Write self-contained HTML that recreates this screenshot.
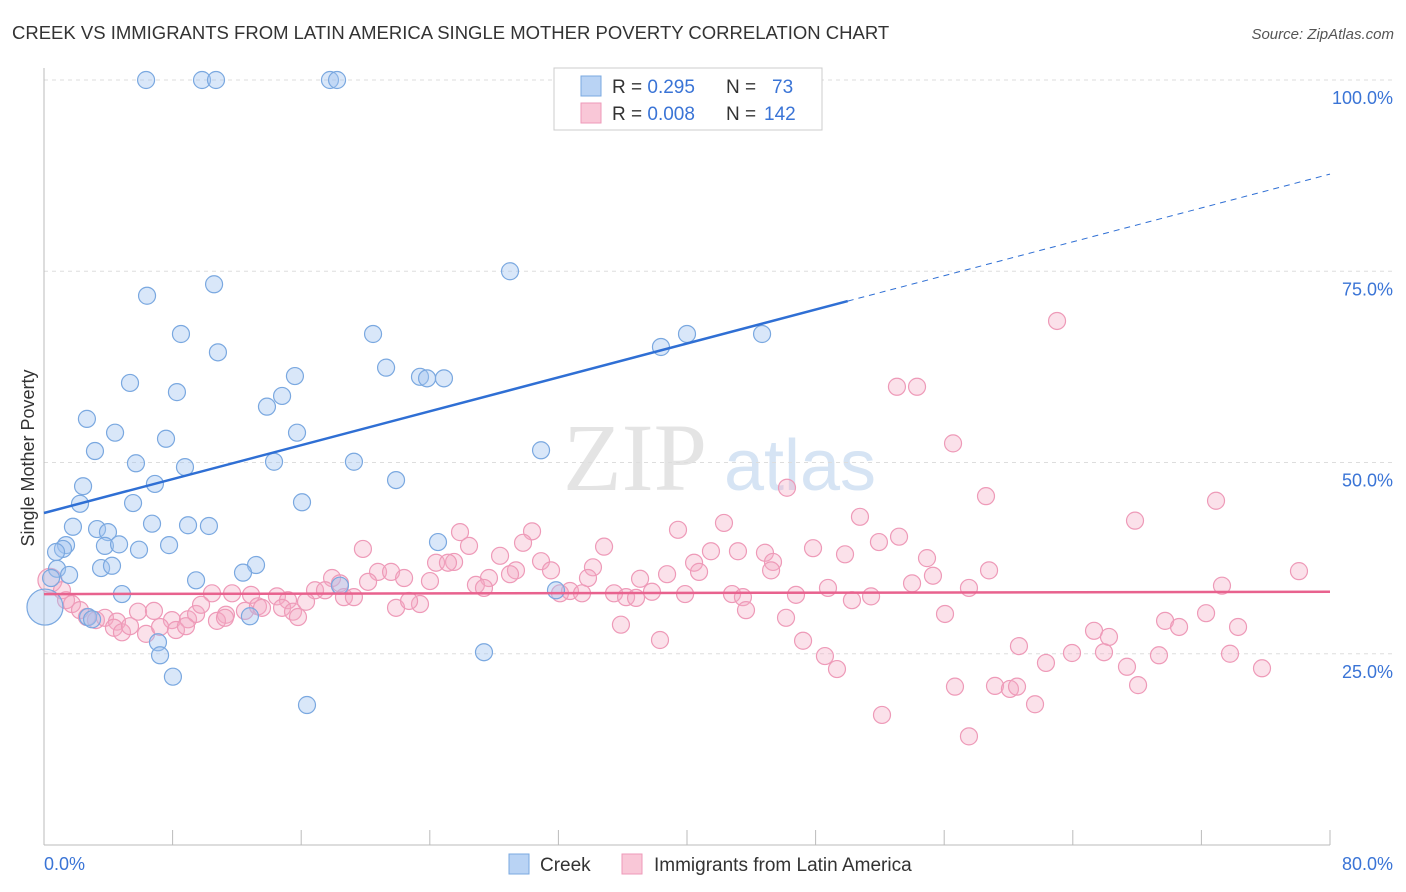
<!DOCTYPE html>
<html><head><meta charset="utf-8"><style>
body{margin:0;background:#fff;font-family:"Liberation Sans",sans-serif;}
svg{display:block}
</style></head><body>
<svg id="c" width="1406" height="892">
<text x="12" y="39" font-size="18.5" fill="#333">CREEK VS IMMIGRANTS FROM LATIN AMERICA SINGLE MOTHER POVERTY CORRELATION CHART</text>
<text x="1394" y="39" font-size="15" fill="#555" font-style="italic" text-anchor="end">Source: ZipAtlas.com</text>
<text x="34" y="458" font-size="18" fill="#333" text-anchor="middle" transform="rotate(-90 34 458)">Single Mother Poverty</text>
<g><text x="635" y="490" font-size="96" fill="#e4e4e4" font-family="Liberation Serif,serif" text-anchor="middle">ZIP</text><text x="800" y="490" font-size="72" fill="#d6e4f4" text-anchor="middle">atlas</text></g>
<g id="grid"></g><g id="axes"></g><g id="pink"></g><g id="blue"></g><g id="lines"></g>
<g>
<rect x="554" y="68" width="268" height="62" fill="#fff" stroke="#ccc"/>
<rect x="581" y="76" width="20" height="20" fill="#b9d3f4" stroke="#7aa8e0"/>
<rect x="581" y="103" width="20" height="20" fill="#f9c7d7" stroke="#ee9ab8"/>
<text x="612" y="93" font-size="19" fill="#333">R = <tspan fill="#3a74d6">0.295</tspan><tspan x="726">N = </tspan><tspan fill="#3a74d6" x="772">73</tspan></text>
<text x="612" y="120" font-size="19" fill="#333">R = <tspan fill="#3a74d6">0.008</tspan><tspan x="726">N = </tspan><tspan fill="#3a74d6" x="764">142</tspan></text>
</g>
<g>
<rect x="509" y="854" width="20" height="20" fill="#b9d3f4" stroke="#7aa8e0"/>
<text x="540" y="871" font-size="19" fill="#333">Creek</text>
<rect x="622" y="854" width="20" height="20" fill="#f9c7d7" stroke="#ee9ab8"/>
<text x="654" y="871" font-size="19" fill="#333">Immigrants from Latin America</text>
</g>
</svg>
<script>
const yTicks=[25,50,75,100];
const yTickLabels=["25.0%","50.0%","75.0%","100.0%"];
const xEnds=["0.0%","80.0%"];
const blueX=[6.35,9.83,10.70,17.79,18.23,28.99,10.58,6.41,8.52,20.47,10.82,38.38,40.0,44.67,21.28,15.61,23.39,23.83,24.88,5.35,8.27,14.81,13.87,2.67,4.42,15.74,7.59,3.17,30.92,5.72,8.77,14.31,19.28,21.9,2.43,6.9,2.24,5.54,16.05,1.8,3.3,6.72,8.96,10.26,3.98,1.37,1.18,0.75,3.79,4.67,5.91,7.78,24.51,0.81,3.55,4.23,1.56,13.19,12.38,9.46,18.41,31.85,4.85,2.74,2.99,12.81,7.09,7.22,27.37,8.02,16.36,0.44,0.06];
const blueY=[100,100,100,100,100,75.0,73.3,71.8,66.8,66.8,64.4,65.1,66.8,66.8,62.4,61.3,61.2,61.0,61.0,60.4,59.2,58.7,57.3,55.7,53.9,53.9,53.1,51.5,51.6,49.9,49.4,50.1,50.1,47.7,46.9,47.2,44.6,44.7,44.8,41.6,41.3,42.0,41.8,41.7,40.9,39.2,38.7,38.3,39.1,39.3,38.6,39.2,39.6,36.1,36.2,36.5,35.3,36.6,35.6,34.6,33.9,33.3,32.8,29.8,29.5,29.9,26.5,24.8,25.2,22.0,18.3,34.9,31.1];
const pinkX=[63.02,53.06,54.31,56.55,46.22,58.6,72.91,67.87,42.3,50.76,39.44,25.88,30.36,53.19,51.94,19.84,26.44,29.8,34.84,41.49,43.17,44.85,47.84,49.83,28.37,30.92,54.93,24.39,25.51,25.13,34.15,40.44,45.35,58.79,78.07,20.78,21.59,29.36,31.54,40.75,17.92,22.4,27.68,28.99,37.08,38.76,45.23,55.3,18.41,26.87,27.37,33.84,24.01,20.16,54.0,73.28,57.54,48.77,10.45,11.7,12.88,14.49,15.18,16.86,17.48,18.66,19.28,32.1,32.72,33.47,35.46,36.21,36.83,37.82,39.88,42.8,43.48,46.78,50.26,51.45,0.37,1.12,1.37,1.74,2.24,2.67,3.23,3.79,4.54,5.85,6.84,7.96,8.96,9.46,9.77,11.32,12.5,13.31,13.56,14.81,15.49,15.8,16.3,23.39,21.9,22.71,43.67,56.05,72.29,69.74,70.61,74.28,46.16,35.89,10.76,11.26,4.35,4.85,5.35,6.35,7.22,8.21,8.83,38.32,47.22,65.32,66.25,60.65,63.95,65.94,69.36,73.78,62.33,67.37,75.77,48.58,49.33,56.67,59.16,60.09,60.53,68.06,61.65,52.13,57.54];
const pinkY=[68.5,59.9,59.9,52.5,46.7,45.6,45.0,42.4,42.1,42.9,41.2,40.9,41.0,40.3,39.6,38.7,39.1,39.5,39.0,38.4,38.4,38.2,38.8,38.0,37.8,37.1,37.5,36.9,37.0,36.9,36.3,36.9,37.0,35.9,35.8,35.7,35.7,35.9,35.9,35.7,34.9,34.9,34.9,35.4,34.8,35.4,35.9,35.2,34.2,34.0,33.6,34.9,34.5,34.4,34.2,33.9,33.6,33.6,32.9,32.9,32.7,32.5,32.0,33.3,33.3,32.4,32.4,32.9,33.2,32.9,32.9,32.4,32.3,33.1,32.8,32.8,32.4,32.7,32.0,32.5,34.6,33.3,32.0,31.5,30.7,29.8,29.4,29.7,29.2,30.5,30.6,29.4,29.5,30.2,31.4,30.1,30.6,31.2,31.0,31.0,30.5,29.8,31.8,31.5,31.0,31.9,30.7,30.2,30.3,29.3,28.5,28.5,29.7,28.8,29.3,29.7,28.4,27.8,28.6,27.6,28.5,28.1,28.6,26.8,26.7,28.0,27.2,26.0,25.1,25.2,24.8,25.0,23.8,23.3,23.1,24.7,23.0,20.7,20.8,20.4,20.7,20.9,18.4,17.0,14.2];
const blueTrend=[[0,43.4],[50,71.1],[80,87.7]];
const pinkTrend=[[0,32.8],[80,33.1]];
const NS="http://www.w3.org/2000/svg";
const X=v=>44+v/80*1286, Y=v=>845-v/100*765;
function mk(p,t,a){const e=document.createElementNS(NS,t);for(const k in a)e.setAttribute(k,a[k]);document.getElementById(p).appendChild(e);return e;}
yTicks.forEach((t,i)=>{
 const g=mk('grid','line',{x1:44,x2:1394,y1:Y(t),y2:Y(t),stroke:'#ddd','stroke-dasharray':'4 4'});
 
 
 const l=mk('grid','text',{x:1393,y:Y(t)+24,'font-size':18,fill:'#3a74d6','text-anchor':'end'});l.textContent=yTickLabels[i];
 
 
});
const ya=mk('axes','line',{x1:44,x2:44,y1:68,y2:845,stroke:'#bbb'});


const xa=mk('axes','line',{x1:44,x2:1330,y1:845,y2:845,stroke:'#bbb'});


for(let i=1;i<=10;i++){const t=mk('axes','line',{x1:X(i*8),x2:X(i*8),y1:830,y2:845,stroke:'#bbb'});
 
 }
const x0=mk('axes','text',{x:44,y:870,'font-size':18,fill:'#3a74d6'});x0.textContent=xEnds[0];


const x1=mk('axes','text',{x:1393,y:870,'font-size':18,fill:'#3a74d6','text-anchor':'end'});x1.textContent=xEnds[1];


pinkX.forEach((v,i)=>{const c=mk('pink','circle',{cx:X(v),cy:Y(pinkY[i]),r:i==80?12:8.5,fill:'rgba(244,170,195,0.35)',stroke:'#ee9ab8','stroke-width':1.2});
 
 });
blueX.forEach((v,i)=>{const c=mk('blue','circle',{cx:X(v),cy:Y(blueY[i]),r:i==blueX.length-1?18:8.5,fill:'rgba(160,196,240,0.4)',stroke:'#7aa8e0','stroke-width':1.2});
 
 });
const b1=mk('lines','line',{x1:X(blueTrend[0][0]),y1:Y(blueTrend[0][1]),x2:X(blueTrend[1][0]),y2:Y(blueTrend[1][1]),stroke:'#2f6fd4','stroke-width':2.5});


const b2=mk('lines','line',{x1:X(blueTrend[1][0]),y1:Y(blueTrend[1][1]),x2:X(blueTrend[2][0]),y2:Y(blueTrend[2][1]),stroke:'#2f6fd4','stroke-width':1,'stroke-dasharray':'6 5'});


const p1=mk('lines','line',{x1:X(pinkTrend[0][0]),y1:Y(pinkTrend[0][1]),x2:X(pinkTrend[1][0]),y2:Y(pinkTrend[1][1]),stroke:'#e8628e','stroke-width':2.5});


</script>
</body></html>
